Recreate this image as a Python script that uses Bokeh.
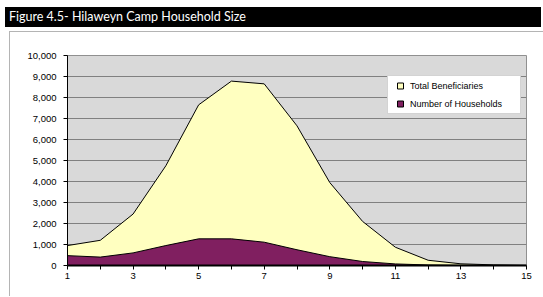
from bokeh.plotting import figure
from bokeh.models import (ColumnDataSource, FixedTicker, SingleIntervalTicker,
                          NumeralTickFormatter, Legend, LegendItem, Range1d, Div)
from bokeh.layouts import column
from bokeh.embed import file_html
from bokeh.resources import INLINE

# ---- data ----
household_size = [1, 2, 3, 4, 5, 6, 7, 8, 9, 10, 11, 12, 13, 14, 15]
total_beneficiaries = [950, 1200, 2450, 4750, 7650, 8780, 8650, 6650, 3950, 2100, 870, 250, 80, 30, 10]
number_of_households = [470, 400, 600, 950, 1270, 1270, 1110, 750, 420, 190, 75, 25, 8, 3, 1]
x_major_ticks = [1, 3, 5, 7, 9, 11, 13, 15]
x_minor_ticks = [2, 4, 6, 8, 10, 12, 14]
title_text = "Figure 4.5- Hilaweyn Camp Household Size"
series_names = ["Total Beneficiaries", "Number of Households"]

YELLOW = "#FFFFC0"
PURPLE = "#801F60"

src = ColumnDataSource(dict(x=household_size, total=total_beneficiaries,
                            hh=number_of_households))

p = figure(width=534, height=265, output_backend="svg", toolbar_location=None,
           x_range=Range1d(1, 15), y_range=Range1d(0, 10000))
p.min_border_left = 57
p.min_border_right = 18
p.min_border_top = 23
p.min_border_bottom = 32
p.margin = (4, 0, 0, 9)
p.background_fill_color = "#D9D9D9"
p.border_fill_color = "white"
p.outline_line_color = "#909090"
p.styles = {"border-left": "1px solid #b4b4b4", "border-top": "1px solid #b4b4b4"}

# areas
p.varea(x="x", y1=0, y2="total", source=src, fill_color=YELLOW)
p.line(x="x", y="total", source=src, line_color="black", line_width=1)
p.varea(x="x", y1=0, y2="hh", source=src, fill_color=PURPLE)
p.line(x="x", y="hh", source=src, line_color="black", line_width=1)

# grid
p.xgrid.visible = False
p.ygrid.grid_line_color = "#808080"
p.ygrid.grid_line_width = 1

# axes
p.xaxis.ticker = FixedTicker(ticks=x_major_ticks, minor_ticks=x_minor_ticks)
p.yaxis.ticker = SingleIntervalTicker(interval=1000, num_minor_ticks=0)
p.yaxis.formatter = NumeralTickFormatter(format="0,0")
for ax in (p.xaxis[0], p.yaxis[0]):
    ax.axis_line_color = "black"
    ax.major_tick_line_color = "black"
    ax.minor_tick_line_color = "black"
    ax.major_tick_in = 0
    ax.major_tick_out = 4
    ax.minor_tick_in = 0
    ax.minor_tick_out = 4
    ax.major_label_text_font = "Liberation Sans"
    ax.major_label_text_font_size = "9.5px"
    ax.major_label_text_color = "black"
p.yaxis.minor_tick_line_color = None
p.xaxis.axis_line_width = 2
p.yaxis.major_label_standoff = 7
p.xaxis.major_label_standoff = 3

# legend: square-marker proxies whose y is NaN, so they draw nothing in the plot
proxy_src = ColumnDataSource(dict(x=household_size[:1], y=[float("nan")]))
prox_total = p.scatter(x="x", y="y", source=proxy_src, marker="square",
                       fill_color=YELLOW, line_color="black", line_width=1)
prox_hh = p.scatter(x="x", y="y", source=proxy_src, marker="square",
                    fill_color=PURPLE, line_color="black", line_width=1)
legend = Legend(items=[LegendItem(label=series_names[0], renderers=[prox_total]),
                       LegendItem(label=series_names[1], renderers=[prox_hh])],
                location=(320, 151))
legend.padding = 2
legend.margin = 0
legend.spacing = 3
legend.glyph_width = 20
legend.glyph_height = 15
legend.label_height = 15
legend.label_width = 108
legend.label_standoff = 0
legend.label_text_font = "Liberation Sans"
legend.label_text_font_size = "9px"
legend.label_text_color = "black"
legend.border_line_color = "#a8a8a8"
legend.border_line_width = 1
legend.background_fill_color = "white"
legend.background_fill_alpha = 1
p.add_layout(legend, "center")

title = Div(text=title_text, width=536, height=20, margin=(7, 0, 0, 5),
            styles={"background-color": "#000000", "color": "#ffffff",
                    "font-family": "Lato", "font-size": "12.5px",
                    "line-height": "20px", "padding-left": "4px",
                    "white-space": "nowrap", "overflow": "hidden",
                    "box-sizing": "border-box"})

layout = column(title, p, spacing=0)

open("out.html", "w").write(file_html(layout, INLINE))
